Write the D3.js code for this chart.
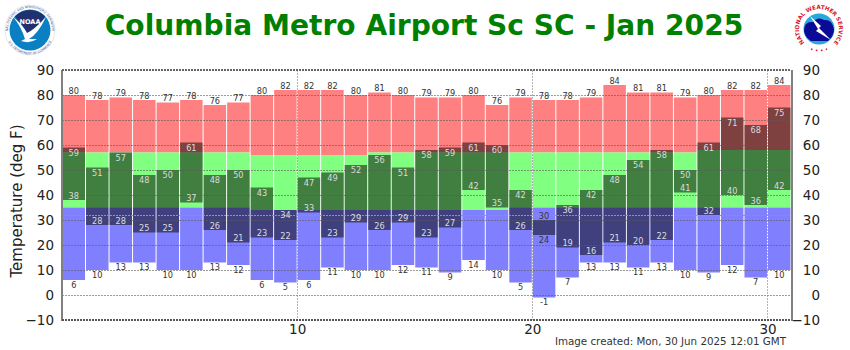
<!DOCTYPE html>
<html>
<head>
<meta charset="utf-8">
<script src="https://cdn.jsdelivr.net/npm/d3@7"></script>
<style>
  html, body { margin: 0; padding: 0; background: #fff; }
  text { font-family: "DejaVu Sans", sans-serif; }
</style>
</head>
<body>
<div id="container"></div>
<script>
let w = 850;
let h = 350;

let days = d3.range(1, 32);
let recHigh = [80,78,79,78,77,78,76,77,80,82,82,82,80,81,80,79,79,80,76,79,78,78,79,84,81,81,79,80,82,82,84];
let normHigh = [57,57,57,57,57,57,57,57,56,56,56,56,56,57,57,57,57,57,57,57,57,57,57,57,57,57,57,58,58,58,58];
let normLow = [35,35,35,35,35,35,35,35,34,34,34,34,34,34,34,34,34,34,34,35,35,35,35,35,35,35,35,35,35,35,35];
let recLow = [6,10,13,13,10,10,13,12,6,5,6,11,10,10,12,11,9,14,10,5,-1,7,13,13,11,13,10,9,12,7,10];
let obsHigh = [59,51,57,48,50,61,48,50,43,34,47,49,52,56,51,58,59,61,60,42,30,36,42,48,54,58,50,61,71,68,75];
let obsLow = [38,28,28,25,25,37,26,21,23,22,33,23,29,26,29,23,27,42,35,26,24,19,16,21,20,22,41,32,40,36,42];

let yTicks = [-10,0,10,20,30,40,50,60,70,80,90];
let xTicks = [10,20,30];
let freezing = 32;

let left = 62;
let right = 791;
let top_ = 70;
let bottom = 320;

let xScale = d3.scaleLinear().domain([0, 31]).range([left, right]);
let yScale = d3.scaleLinear().domain([-10, 90]).range([bottom, top_]);

let viz = d3.select("#container")
  .append("svg")
  .attr("width", w)
  .attr("height", h)
  .style("display", "block")
  .style("background-color", "#fff");

// title and footer
viz.append("text")
  .attr("x", 424)
  .attr("y", 35)
  .attr("text-anchor", "middle")
  .attr("font-size", 28.1)
  .attr("font-weight", "bold")
  .attr("fill", "#008000")
  .text("Columbia Metro Airport Sc SC - Jan 2025");

viz.append("text")
  .attr("x", 786)
  .attr("y", 345)
  .attr("text-anchor", "end")
  .attr("font-size", 10.3)
  .attr("fill", "#333")
  .text("Image created: Mon, 30 Jun 2025 12:01 GMT");

viz.append("text")
  .attr("transform", "translate(21.5,201) rotate(-90)")
  .attr("text-anchor", "middle")
  .attr("font-size", 15)
  .attr("fill", "#222")
  .text("Temperature (deg F)");

// bars, one band at a time
function drawBand(lo, hi, color) {
  viz.append("g")
    .selectAll("rect")
    .data(days)
    .enter()
    .append("rect")
    .attr("x", (d, i) => xScale(i) + 0.5)
    .attr("width", (d, i) => xScale(i + 1) - xScale(i) - 1)
    .attr("y", (d, i) => yScale(hi[i]))
    .attr("height", (d, i) => yScale(lo[i]) - yScale(hi[i]))
    .attr("fill", color);
}

drawBand(normHigh, recHigh, "#ff8080");
drawBand(normLow, normHigh, "#80ff80");
drawBand(recLow, normLow, "#8080ff");
drawBand(obsLow, obsHigh, "rgba(0,0,0,0.5)");

// grid
viz.append("g")
  .selectAll("line")
  .data(yTicks.filter(d => d > -10 && d < 90))
  .enter()
  .append("line")
  .attr("x1", left)
  .attr("x2", right)
  .attr("y1", d => yScale(d) + 0.5)
  .attr("y2", d => yScale(d) + 0.5)
  .attr("stroke", "rgba(90,90,90,0.6)")
  .attr("stroke-dasharray", "2,1");

viz.append("g")
  .selectAll("line")
  .data(xTicks)
  .enter()
  .append("line")
  .attr("x1", d => Math.round(xScale(d)) + 0.5)
  .attr("x2", d => Math.round(xScale(d)) + 0.5)
  .attr("y1", top_)
  .attr("y2", bottom)
  .attr("stroke", "rgba(130,130,130,0.6)")
  .attr("stroke-dasharray", "2,1");

viz.append("line")
  .attr("x1", left)
  .attr("x2", right)
  .attr("y1", yScale(freezing) + 0.5)
  .attr("y2", yScale(freezing) + 0.5)
  .attr("stroke", "#00ccff")
  .attr("stroke-dasharray", "2,1");

// frame
let frame = viz.append("g").attr("fill", "none");
frame.append("line").attr("x1", left).attr("x2", left).attr("y1", top_).attr("y2", bottom + 1)
  .attr("stroke", "#808080").attr("stroke-width", 2);
frame.append("line").attr("x1", right + 1).attr("x2", right + 1).attr("y1", top_).attr("y2", bottom + 1)
  .attr("stroke", "#808080").attr("stroke-width", 2);
frame.append("line").attr("x1", left).attr("x2", right).attr("y1", top_).attr("y2", top_)
  .attr("stroke", "#666").attr("stroke-width", 2).attr("stroke-dasharray", "2,1");
frame.append("line").attr("x1", left).attr("x2", right).attr("y1", bottom).attr("y2", bottom)
  .attr("stroke", "#555").attr("stroke-width", 2).attr("stroke-dasharray", "2,1");

// axes
function styleAxis(g) {
  g.select(".domain").remove();
  g.selectAll(".tick line").remove();
  g.selectAll("text")
    .attr("font-size", 13.5)
    .attr("fill", "#222")
    .style("font-family", '"DejaVu Sans", sans-serif');
}

viz.append("g")
  .attr("transform", "translate(54,0)")
  .call(d3.axisLeft(yScale).tickValues(yTicks).tickSize(0).tickPadding(0))
  .call(styleAxis);

viz.append("g")
  .attr("transform", "translate(820,0)")
  .call(d3.axisLeft(yScale).tickValues(yTicks).tickSize(0).tickPadding(0))
  .call(styleAxis);

viz.append("g")
  .attr("transform", "translate(0,324)")
  .call(d3.axisBottom(xScale).tickValues(xTicks).tickSize(0).tickPadding(0))
  .call(styleAxis);

// value labels
function drawLabels(values, dy, color) {
  viz.append("g")
    .selectAll("text")
    .data(days)
    .enter()
    .append("text")
    .attr("x", (d, i) => xScale(i + 0.5))
    .attr("y", (d, i) => yScale(values[i]) + dy(i))
    .attr("text-anchor", "middle")
    .attr("dominant-baseline", "central")
    .attr("font-size", 8.2)
    .attr("fill", (d, i) => color(i))
    .text((d, i) => values[i]);
}

// a very narrow observed range gets its labels outside the dark bar
let narrow = i => obsHigh[i] - obsLow[i] < 8;
let inkDark = "#333";
let inkLight = "#dcdcdc";

drawLabels(recHigh, () => -4.5, () => inkDark);
drawLabels(recLow, () => 4.5, () => inkDark);
drawLabels(obsHigh, i => narrow(i) ? -4.5 : 5, i => narrow(i) ? inkDark : inkLight);
drawLabels(obsLow, i => narrow(i) ? 5 : -4.5, i => narrow(i) ? inkDark : inkLight);

// NOAA logo
let noaa = viz.append("g").attr("transform", "translate(30,30)");
noaa.append("circle").attr("r", 25).attr("fill", "#fff").attr("stroke", "#c8d0e0").attr("stroke-width", 0.5);
noaa.append("path").attr("id", "noaaRing").attr("fill", "none")
  .attr("d", "M-22,0 A22,22 0 1,1 22,0");
noaa.append("path").attr("id", "noaaRing2").attr("fill", "none")
  .attr("d", "M-24.5,0 A24.5,24.5 0 0,0 24.5,0");
noaa.append("text").attr("font-size", 3.1).attr("fill", "#35508f")
  .append("textPath").attr("href", "#noaaRing").attr("startOffset", "50%").attr("text-anchor", "middle")
  .text("NATIONAL OCEANIC AND ATMOSPHERIC ADMINISTRATION");
noaa.append("text").attr("font-size", 3.1).attr("fill", "#35508f")
  .append("textPath").attr("href", "#noaaRing2").attr("startOffset", "50%").attr("text-anchor", "middle")
  .text("U.S. DEPARTMENT OF COMMERCE");
noaa.append("circle").attr("r", 20.5).attr("fill", "#0a7fc4");
noaa.append("path").attr("fill", "#22306f")
  .attr("d", "M-15,-13.5 A20.5,20.5 0 0,1 15,-13.5 L10,-6 Q3,3 -1,6 Q-7,-5 -15,-13.5 Z");
noaa.append("path").attr("fill", "#fff")
  .attr("d", "M-17,-13 Q-8,-6 -3,3 Q4,0 16,-13 Q8,4 -1,9 Q3,9 7,9 Q0,14 -9,11 L-5,9 Q-9,-4 -17,-13 Z");
noaa.append("text").attr("y", -6.5).attr("text-anchor", "middle").attr("font-size", 6.5)
  .attr("font-weight", "bold").attr("fill", "#fff").text("NOAA");

// NWS logo
let nws = viz.append("g").attr("transform", "translate(819,29)");
nws.append("path").attr("id", "nwsRing").attr("fill", "none")
  .attr("d", "M-10,17.3 A20,20 0 1,1 10,17.3");
nws.append("text").attr("font-size", 5.6).attr("font-weight", "bold").attr("fill", "#d8182c")
  .append("textPath").attr("href", "#nwsRing").attr("startOffset", "50%").attr("text-anchor", "middle")
  .text("NATIONAL WEATHER SERVICE");
nws.append("circle").attr("r", 15.5).attr("fill", "#2aa8dc");
nws.append("path").attr("fill", "#0a0a96")
  .attr("d", "M-15,2 Q-15,-8 -6,-7 Q-1,-13 5,-9 Q13,-10 15,0 Q15,7 9,12 L-8,12 Q-14,8 -15,2 Z");
nws.append("path").attr("fill", "#fff")
  .attr("d", "M-9,-13 L2,-3 L0,-1 L12,11 L-3,2 L-1,0 Z");
nws.append("path").attr("fill", "none").attr("stroke", "#d8182c").attr("stroke-width", 1.6)
  .attr("stroke-dasharray", "1.6,3.4")
  .attr("d", "M-8,20 A21.5,21.5 0 0,0 8,20");
</script>
</body>
</html>
